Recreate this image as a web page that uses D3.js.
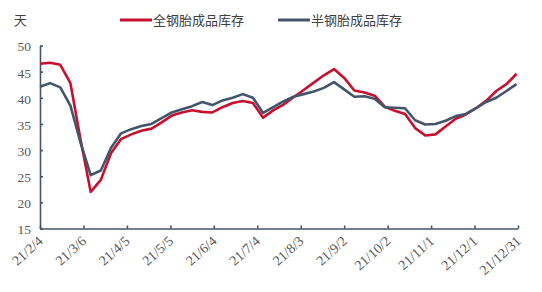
<!DOCTYPE html>
<html>
<head>
<meta charset="utf-8">
<script src="https://cdn.jsdelivr.net/npm/d3@7"></script>
<style>
  html, body { margin: 0; padding: 0; background: #fff; }
  svg { display: block; }
  .axis text { font-family: "Liberation Serif", "DejaVu Serif", serif; font-size: 13.5px; fill: #595959; }
  .x-axis text { font-size: 14px; }
  .axis path, .axis line { stroke: #44546a; stroke-width: 1.6; }
  .legend-label, .unit { font-family: "Noto Sans CJK SC", sans-serif; font-size: 13px; fill: #404040; }
</style>
</head>
<body>
<svg id="chart" width="542" height="292"></svg>
<script>
const svg = d3.select("#chart");

const startDate = new Date(2021, 1, 4);
const endDate = new Date(2021, 11, 31);

// weekly points from 21/2/4
const fullSteel = [
  46.5, 46.7, 46.3, 42.8, 32.0, 22.0, 24.3, 29.4, 32.1, 33.0,
  33.7, 34.1, 35.3, 36.6, 37.2, 37.6, 37.3, 37.2, 38.2, 39.0,
  39.4, 39.0, 36.2, 37.6, 38.7, 40.1, 41.5, 42.9, 44.3, 45.5,
  43.8, 41.4, 41.0, 40.4, 38.3, 37.5, 36.9, 34.2, 32.8, 33.0,
  34.5, 36.0, 36.8, 38.0, 39.4, 41.3, 42.6, 44.6,
];
const halfSteel = [
  42.1, 42.8, 42.0, 38.5, 31.4, 25.2, 26.1, 30.4, 33.2, 34.0,
  34.6, 35.0, 36.1, 37.2, 37.8, 38.4, 39.2, 38.6, 39.5, 40.0,
  40.7, 40.0, 37.1, 38.2, 39.3, 40.2, 40.7, 41.2, 41.9, 43.0,
  41.6, 40.2, 40.3, 39.8, 38.2, 38.1, 38.0, 35.7, 34.9, 35.0,
  35.6, 36.5, 36.9, 38.0, 39.2, 40.0, 41.3, 42.6,
];
const yTicks = [15, 20, 25, 30, 35, 40, 45, 50];
const seriesNames = ["全钢胎成品库存", "半钢胎成品库存"];
const colors = ["#c8102e", "#44546a"];

const dates = fullSteel.map((_, i) => d3.timeDay.offset(startDate, i * 7));
const xTicks = d3.range(0, 12).map((i) => d3.timeDay.offset(startDate, i * 30));
const fmt = (d) => `21/${d.getMonth() + 1}/${d.getDate()}`;

const x = d3.scaleTime().domain([startDate, endDate]).range([40, 518]);
const y = d3.scaleLinear().domain([15, 50]).range([228.5, 45.5]);

// y axis
svg.append("g")
  .attr("class", "axis")
  .attr("transform", "translate(40,0)")
  .call(d3.axisLeft(y).tickValues(yTicks).tickSize(-3).tickPadding(9).tickSizeOuter(0))
  .call((g) => g.selectAll("text").attr("dy", "0.4em"));

// x axis
svg.append("g")
  .attr("class", "axis x-axis")
  .attr("transform", `translate(0,${y(15)})`)
  .call(d3.axisBottom(x).tickValues(xTicks).tickFormat(fmt).tickSize(-3).tickSizeOuter(0))
  .call((g) => g.selectAll("text")
    .attr("text-anchor", "end")
    .attr("dy", "0.35em")
    .attr("transform", "translate(-2,8) rotate(-42)"));

const line = d3.line()
  .x((d, i) => x(dates[i]))
  .y((d) => y(d));

[fullSteel, halfSteel].forEach((s, k) => {
  svg.append("path")
    .attr("d", line(s))
    .attr("fill", "none")
    .attr("stroke", colors[k])
    .attr("stroke-width", 2.6)
    .attr("stroke-linejoin", "round");
});

svg.append("text").attr("class", "unit").attr("x", 14).attr("y", 25).text("天");

const legendX = [120, 278];
seriesNames.forEach((name, k) => {
  svg.append("line")
    .attr("x1", legendX[k]).attr("x2", legendX[k] + 32)
    .attr("y1", 20).attr("y2", 20)
    .attr("stroke", colors[k]).attr("stroke-width", 3);
  svg.append("text")
    .attr("class", "legend-label")
    .attr("x", legendX[k] + 33)
    .attr("y", 24.5)
    .text(name);
});
</script>
</body>
</html>
